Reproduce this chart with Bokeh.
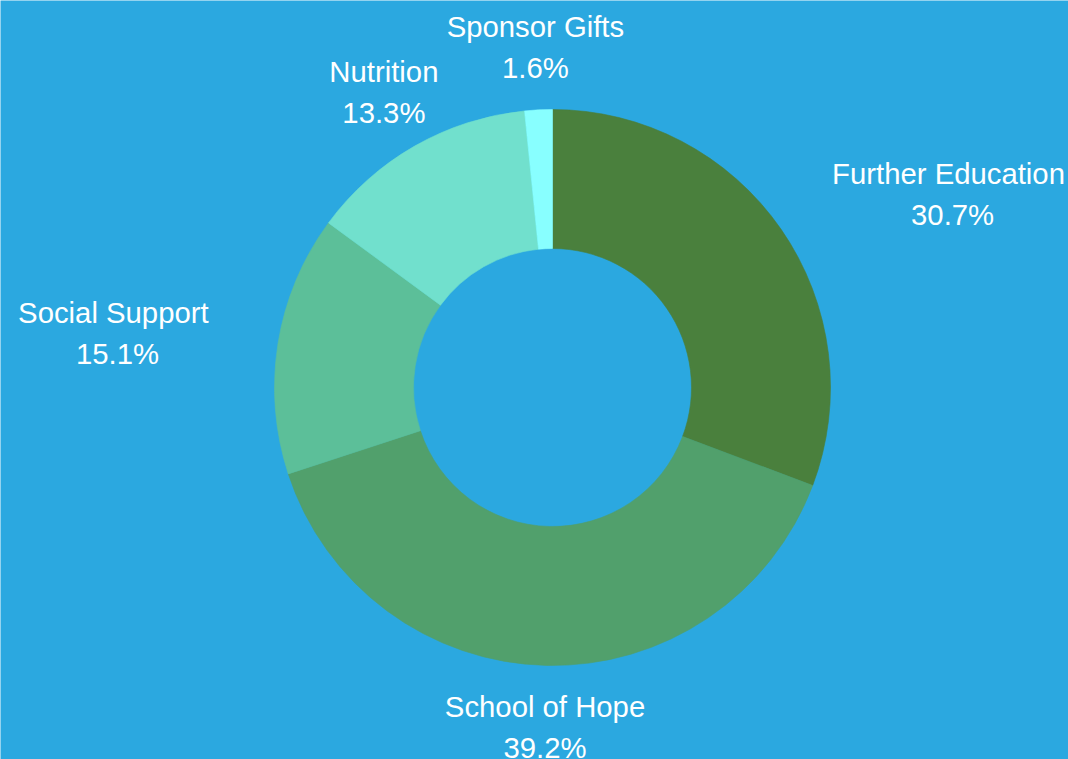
import math
import re
from bokeh.plotting import figure
from bokeh.models import Range1d
from bokeh.core.properties import value
from bokeh.embed import file_html
from bokeh.resources import INLINE

# ---- data ----
categories = ["Further Education", "School of Hope", "Social Support", "Nutrition", "Sponsor Gifts"]
percents = [30.7, 39.2, 15.1, 13.3, 1.6]
colors = ["#4A803D", "#51A06C", "#5CBF99", "#71E0CD", "#88FFFF"]

# ---- layout ----
W, H = 1068, 759
BG = "#2BA8E0"
CX, CY = 552, H - 387
R_OUT, R_IN = 278, 139
R_LABEL = 340
FONT = value("Liberation Sans")
FS = 29.3
LINE_GAP = 41
Y_SHIFT = 11

# Arial / Liberation Sans advance widths (per 1000 em)
ADV = {" ": 278, "S": 667, "F": 611, "E": 667, "G": 778, "H": 722, "N": 722,
       "a": 556, "c": 500, "d": 556, "e": 556, "f": 278, "h": 556, "i": 222,
       "l": 222, "n": 556, "o": 556, "p": 556, "r": 333, "s": 500, "t": 278,
       "u": 556, "%": 889, ".": 278}


def text_width(s):
    return sum(ADV.get(ch, 556) for ch in s) / 1000.0 * FS


p = figure(width=W, height=H, x_range=Range1d(0, W), y_range=Range1d(0, H),
           output_backend="svg", toolbar_location=None, min_border=0)
p.axis.visible = False
p.xgrid.visible = False
p.ygrid.visible = False
p.background_fill_color = BG
p.border_fill_color = BG
p.outline_line_color = None

TXT = dict(text_baseline="alphabetic", text_color="white", text_font=FONT,
           text_font_size=f"{FS}px")

total = sum(percents)
cum = 0.0
for cat, val, col in zip(categories, percents, colors):
    a0 = math.radians(90 - cum / total * 360)
    a1 = math.radians(90 - (cum + val) / total * 360)
    p.annular_wedge(x=CX, y=CY, inner_radius=R_IN, outer_radius=R_OUT,
                    start_angle=a1, end_angle=a0, direction="anticlock",
                    fill_color=col, line_color=col, line_width=0.6)
    mid = (a0 + a1) / 2
    ax = CX + R_LABEL * math.cos(mid)
    ay = CY + R_LABEL * math.sin(mid) + Y_SHIFT
    name = cat + " "
    pct = f"{val:.1f}%"
    cm = 0.358 * FS
    y_name = ay + LINE_GAP / 2 - cm
    y_pct = ay - LINE_GAP / 2 - cm
    c = math.cos(mid)
    if c > 0.7:
        wn = text_width(name)
        p.text(x=[ax], y=[y_name], text=[name], text_align="left", **TXT)
        p.text(x=[ax + wn / 2], y=[y_pct], text=[pct], text_align="center", **TXT)
    elif c < -0.7:
        wn = text_width(name)
        p.text(x=[ax], y=[y_name], text=[name], text_align="right", **TXT)
        p.text(x=[ax - wn / 2], y=[y_pct], text=[pct], text_align="center", **TXT)
    else:
        p.text(x=[ax], y=[y_name], text=[cat], text_align="center", **TXT)
        p.text(x=[ax], y=[y_pct], text=[pct], text_align="center", **TXT)
    cum += val

html = file_html(p, INLINE)
html = re.sub(r"<body([^>]*)>", r'<body\1 style="margin:0;background:%s;overflow:hidden">' % BG, html, count=1)
open("out.html", "w").write(html)
